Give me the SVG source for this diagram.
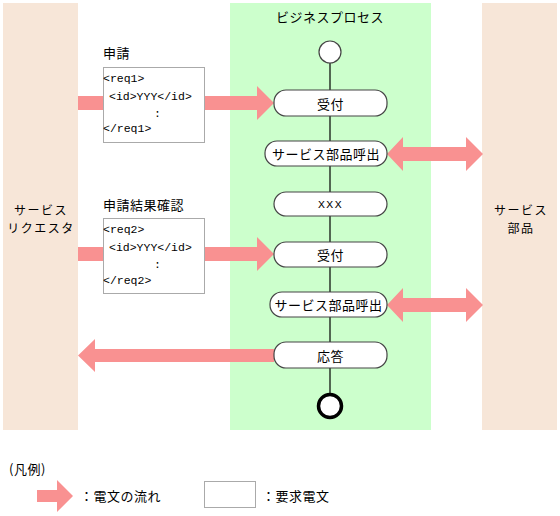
<svg xmlns="http://www.w3.org/2000/svg" width="560" height="516" viewBox="0 0 560 516">
<style>
.t{font-family:"Noto Sans CJK JP","DejaVu Sans",sans-serif;font-size:13px;fill:#000;letter-spacing:0.5px}
.s{font-family:"Noto Sans CJK JP","DejaVu Sans",sans-serif;font-size:12px;fill:#000;letter-spacing:1.5px}
.m{font-family:"Liberation Mono","DejaVu Sans Mono",monospace;font-size:11.5px;fill:#000}
.lane{fill:#f7e6d8}
.node{fill:#fff;stroke:#444;stroke-width:1.2}
.msg{fill:#fff;stroke:#aaa;stroke-width:1}
.arr{fill:#f99191}
</style>
<rect class="lane" x="3" y="3" width="75" height="427"/>
<rect x="230" y="3" width="201" height="427" fill="#ccffcc"/>
<rect class="lane" x="482" y="3" width="75" height="427"/>
<text class="t" x="330" y="16" text-anchor="middle" dominant-baseline="central">ビジネスプロセス</text>
<g id="lane-requester"><text class="s" x="41" y="209" text-anchor="middle" dominant-baseline="central">サービス</text><text class="s" x="41" y="227" text-anchor="middle" dominant-baseline="central">リクエスタ</text></g>
<g id="lane-parts"><text class="s" x="521" y="209" text-anchor="middle" dominant-baseline="central">サービス</text><text class="s" x="521" y="227" text-anchor="middle" dominant-baseline="central">部品</text></g>
<g id="connectors">
<line x1="330" y1="52" x2="330" y2="405" stroke="#000" stroke-width="1.2"/>
<polygon class="arr" points="78,96 257,96 257,86 274,103 257,120 257,110 78,110"/>
<polygon class="arr" points="387,154 403,137 403,147 466,147 466,137 483,154 466,171 466,161 403,161 403,171"/>
<polygon class="arr" points="78,247 257,247 257,237 274,254 257,271 257,261 78,261"/>
<polygon class="arr" points="387,305 403,288 403,298 466,298 466,288 483,305 466,322 466,312 403,312 403,322"/>
<polygon class="arr" points="274,349 95,349 95,339 78,355.5 95,372 95,362 274,362"/>
</g>
<g id="msg1">
<text class="t" x="103" y="52" dominant-baseline="central">申請</text>
<rect class="msg" x="103.5" y="67.5" width="101" height="75"/>
<text class="m" x="103" y="78" dominant-baseline="central">&lt;req1&gt;</text>
<text class="m" x="109" y="96" dominant-baseline="central">&lt;id&gt;YYY&lt;/id&gt;</text>
<text class="m" x="154" y="113" dominant-baseline="central">:</text>
<text class="m" x="103" y="128" dominant-baseline="central">&lt;/req1&gt;</text>
</g>
<g id="msg2">
<text class="t" x="103" y="204" dominant-baseline="central">申請結果確認</text>
<rect class="msg" x="103.5" y="218.5" width="101" height="75"/>
<text class="m" x="103" y="229" dominant-baseline="central">&lt;req2&gt;</text>
<text class="m" x="109" y="247" dominant-baseline="central">&lt;id&gt;YYY&lt;/id&gt;</text>
<text class="m" x="154" y="264" dominant-baseline="central">:</text>
<text class="m" x="103" y="280" dominant-baseline="central">&lt;/req2&gt;</text>
</g>
<g id="start"><circle cx="330" cy="52" r="11" fill="#fff" stroke="#444" stroke-width="1.2"/></g>
<g id="n1"><rect class="node" x="274" y="90" width="113" height="26" rx="12"/><text class="t" x="330.5" y="103" text-anchor="middle" dominant-baseline="central">受付</text></g>
<g id="n2"><rect class="node" x="265" y="141" width="122" height="25" rx="12"/><text class="t" x="326" y="153.5" text-anchor="middle" dominant-baseline="central">サービス部品呼出</text></g>
<g id="n3"><rect class="node" x="274" y="192" width="113" height="24" rx="12"/><text class="m" x="330.5" y="204" text-anchor="middle" dominant-baseline="central" letter-spacing="1.5">XXX</text></g>
<g id="n4"><rect class="node" x="274" y="242" width="113" height="25" rx="12"/><text class="t" x="330.5" y="254.5" text-anchor="middle" dominant-baseline="central">受付</text></g>
<g id="n5"><rect class="node" x="270" y="292" width="117" height="25" rx="12"/><text class="t" x="328.5" y="304.5" text-anchor="middle" dominant-baseline="central">サービス部品呼出</text></g>
<g id="n6"><rect class="node" x="274" y="342" width="113" height="26" rx="12"/><text class="t" x="330.5" y="355" text-anchor="middle" dominant-baseline="central">応答</text></g>
<g id="end"><circle cx="330" cy="406" r="11.5" fill="#fff" stroke="#000" stroke-width="3.5"/></g>
<g id="legend">
<text class="t" x="9" y="468" dominant-baseline="central">(凡例)</text>
<polygon class="arr" points="37,490 57,490 57,480 73,496 57,512 57,502 37,502"/>
<text class="t" x="80" y="495" dominant-baseline="central">：電文の流れ</text>
<rect class="msg" x="204.5" y="481.5" width="51" height="26"/>
<text class="t" x="262" y="495" dominant-baseline="central">：要求電文</text>
</g>
</svg>
